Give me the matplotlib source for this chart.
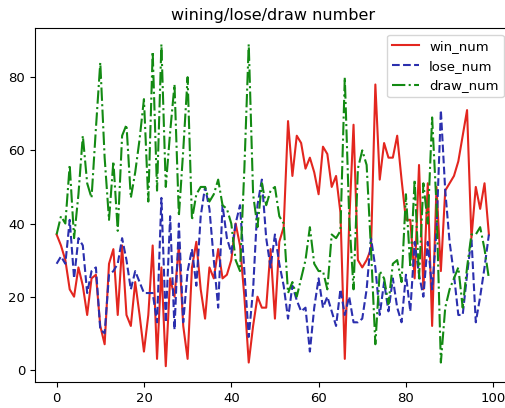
import matplotlib
matplotlib.use("Agg")
import matplotlib.pyplot as plt
import numpy as np

# values, one per game index 0..99
win_num = [37, 34, 30, 22, 20, 28, 23, 15, 25, 26,
           12, 7, 29, 33, 15, 34, 15, 12, 24, 15,
           5, 15, 34, 3, 28, 1, 25, 20, 34, 12,
           3, 28, 35, 22, 14, 28, 25, 33, 25, 26,
           30, 40, 34, 20, 2, 12, 20, 17, 17, 33,
           14, 35, 39, 68, 53, 64, 62, 55, 58, 54,
           48, 61, 59, 50, 53, 43, 3, 40, 67, 30,
           28, 30, 33, 78, 52, 62, 58, 58, 64, 52,
           41, 41, 25, 56, 22, 51, 12, 50, 27, 49,
           51, 53, 57, 64, 71, 36, 50, 44, 51, 37]

lose_num = [29, 31, 29, 41, 25, 36, 34, 21, 27, 28,
            11, 10, 26, 27, 29, 36, 30, 22, 27, 24,
            21, 21, 21, 13, 47, 13, 42, 11, 40, 13,
            27, 33, 23, 42, 50, 44, 30, 17, 45, 36,
            32, 40, 45, 27, 9, 22, 45, 52, 36, 28,
            37, 29, 23, 14, 23, 19, 16, 17, 5, 17,
            25, 17, 20, 16, 12, 22, 15, 20, 13, 13,
            14, 22, 36, 28, 15, 24, 16, 25, 17, 13,
            26, 16, 35, 26, 20, 35, 22, 38, 71, 49,
            35, 26, 15, 15, 26, 36, 13, 20, 28, 37]

draw_num = [37, 42, 40, 56, 36, 48, 64, 51, 47, 66,
            84, 58, 41, 57, 38, 64, 67, 47, 54, 63,
            74, 46, 87, 49, 89, 50, 65, 78, 42, 60,
            80, 41, 48, 50, 50, 46, 48, 52, 45, 44,
            40, 30, 27, 55, 89, 48, 39, 51, 45, 49,
            50, 42, 40, 21, 24, 20, 25, 30, 39, 29,
            27, 27, 22, 37, 36, 38, 80, 42, 22, 55,
            60, 56, 33, 7, 27, 25, 18, 29, 30, 24,
            48, 28, 52, 25, 51, 40, 69, 45, 2, 17,
            22, 25, 28, 17, 28, 37, 37, 39, 33, 25]

games = np.arange(len(win_num))

fig = plt.figure(figsize=(5.05, 4.08), dpi=100)
ax = fig.add_axes([0.0693, 0.063, 0.9416, 0.868])

ax.plot(games, win_num, color='#e3261f', linestyle='-', linewidth=1.5, label='win_num')
ax.plot(games, lose_num, color='#2b2fae', linestyle='--', linewidth=1.5, label='lose_num')
ax.plot(games, draw_num, color='#138a13', linestyle='-.', linewidth=1.5, label='draw_num')

ax.set_title('wining/lose/draw number', fontsize=11.5)
ax.tick_params(labelsize=9.5)
ax.legend(loc='upper right', fontsize=9.5)

plt.savefig('out.png', dpi=100)
